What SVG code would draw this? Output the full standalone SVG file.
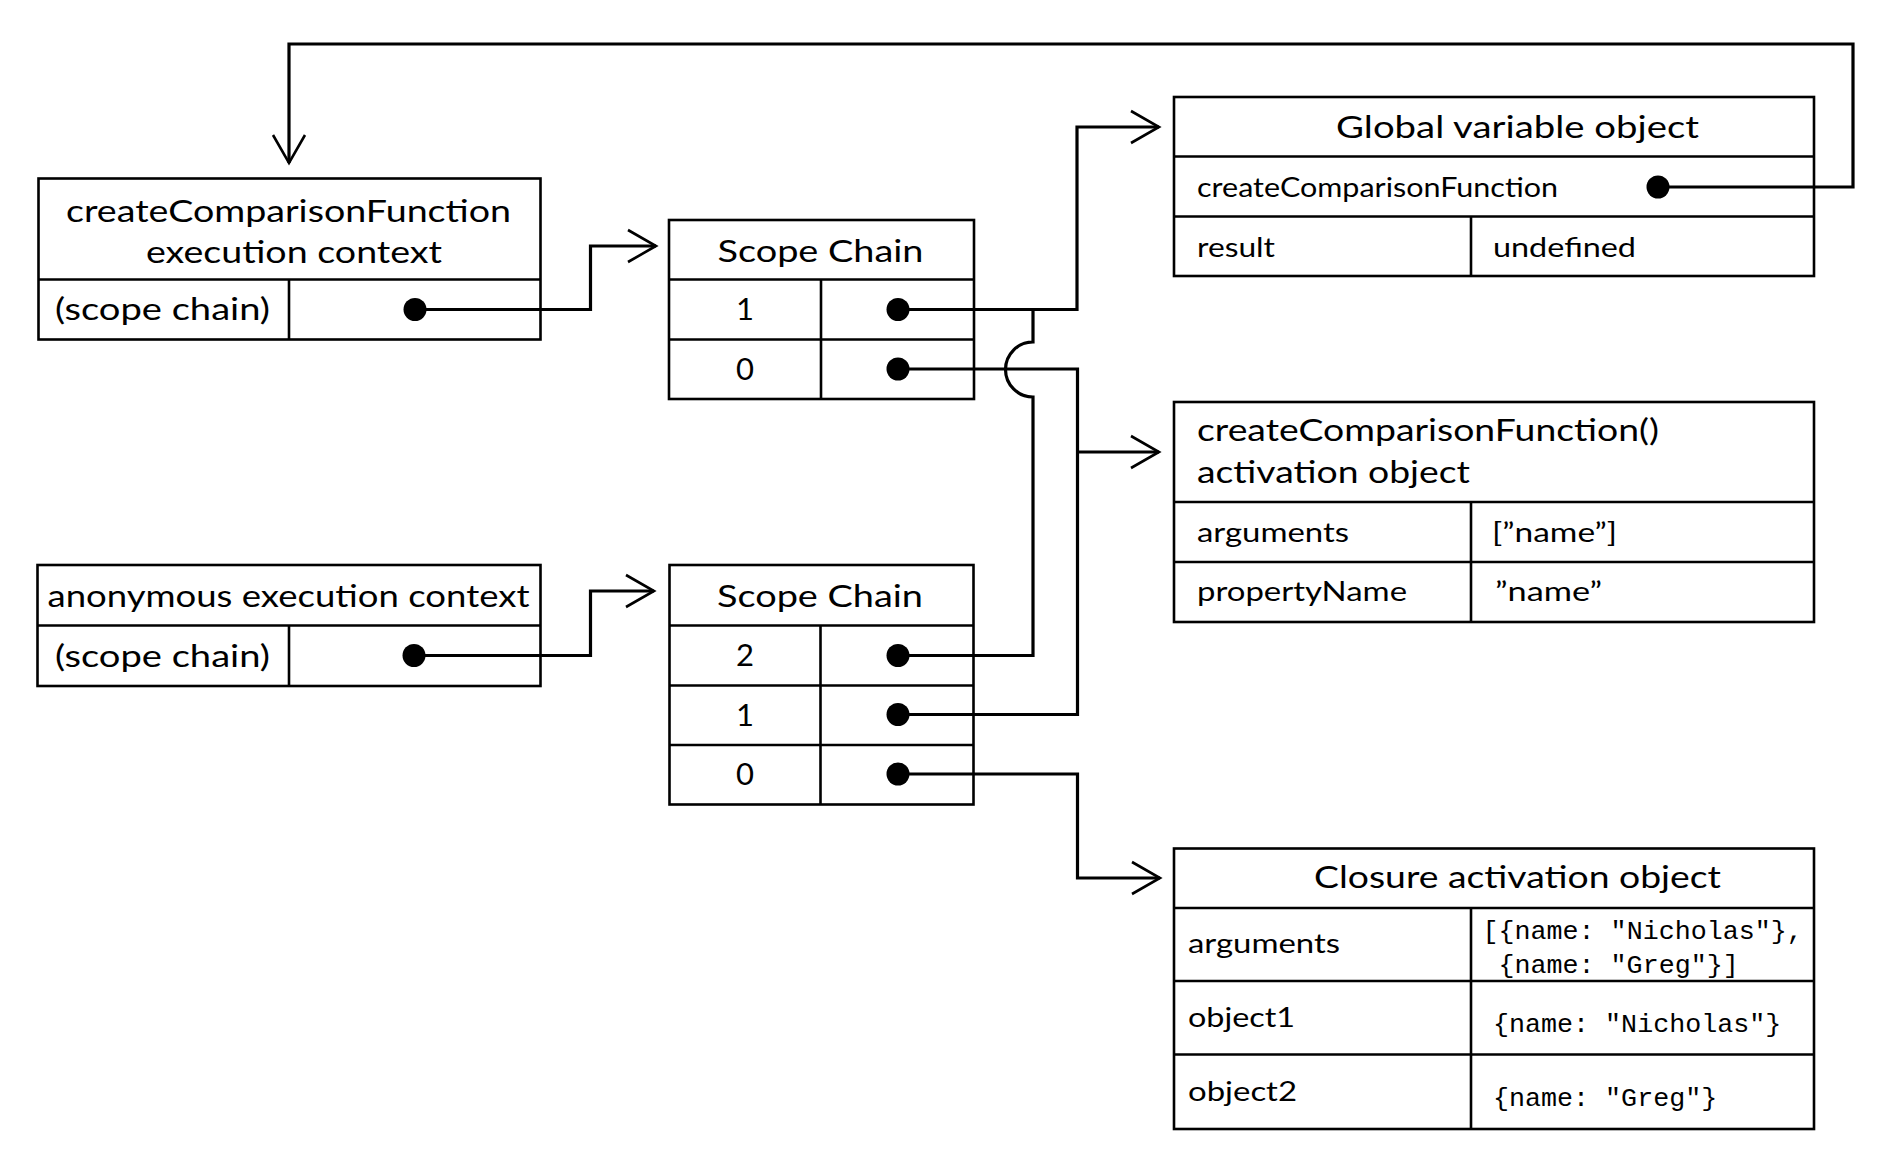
<svg xmlns="http://www.w3.org/2000/svg" width="1886" height="1158" viewBox="0 0 1886 1158">
<style>
.box{fill:none;stroke:#000;stroke-width:2.6}
.ln{fill:none;stroke:#000;stroke-width:3.2}
.dot{fill:#000}
.t{font-family:Lato,"Liberation Sans",sans-serif;fill:#000}
.h{font-size:31px}
.r{font-size:27px}
.m{font-family:"Liberation Mono","DejaVu Sans Mono",monospace;font-size:26.7px;fill:#000}
.c{text-anchor:middle}
</style>
<defs>
<marker id="arr" markerUnits="userSpaceOnUse" markerWidth="40" markerHeight="40" viewBox="-32 -20 36 40" refX="0" refY="0" orient="auto">
<path d="M-28,-16 L0,0 L-28,16" fill="none" stroke="#000" stroke-width="2.6"/>
</marker>
</defs>
<rect width="1886" height="1158" fill="#fff"/>

<g id="connectors">
<path class="ln" d="M415,309.5 H590.5 V246 H656" marker-end="url(#arr)"/>
<path class="ln" d="M414,655.5 H590.5 V591 H654" marker-end="url(#arr)"/>
<path class="ln" d="M898,309.5 H1077 V127 H1159" marker-end="url(#arr)"/>
<path class="ln" d="M898,655.5 H1033 V397 A27.5,27.5 0 0 1 1033,342 V309.5"/>
<path class="ln" d="M898,369 H1077.5 V714.5 H898"/>
<path class="ln" d="M1077.5,452 H1159" marker-end="url(#arr)"/>
<path class="ln" d="M898,774 H1077.5 V878 H1160" marker-end="url(#arr)"/>
<path class="ln" d="M1658,187 H1853 V44 H289 V163" marker-end="url(#arr)"/>
</g>

<g id="ctx-create">
<rect class="box" x="38.5" y="178.5" width="502" height="161"/>
<line class="box" x1="38.5" y1="279.5" x2="540.5" y2="279.5"/>
<line class="box" x1="289" y1="279.5" x2="289" y2="339.5"/>
<text class="t h" x="66" y="221.5" textLength="445" lengthAdjust="spacingAndGlyphs">createComparisonFunction</text>
<text class="t h" x="146" y="263" textLength="296" lengthAdjust="spacingAndGlyphs">execution context</text>
<text class="t h" x="55" y="320" textLength="215" lengthAdjust="spacingAndGlyphs">(scope chain)</text>
<circle class="dot" cx="415" cy="309.5" r="11.5"/>
</g>

<g id="scope-chain-1">
<rect class="box" x="669" y="220" width="305" height="179"/>
<line class="box" x1="669" y1="279.5" x2="974" y2="279.5"/>
<line class="box" x1="669" y1="339.5" x2="974" y2="339.5"/>
<line class="box" x1="821" y1="279.5" x2="821" y2="399"/>
<text class="t h" x="717.5" y="261.5" textLength="206" lengthAdjust="spacingAndGlyphs">Scope Chain</text>
<text class="t h c" x="745" y="320">1</text>
<text class="t h c" x="745" y="379.5">0</text>
<circle class="dot" cx="898" cy="309.5" r="11.5"/>
<circle class="dot" cx="898" cy="369" r="11.5"/>
</g>

<g id="ctx-anon">
<rect class="box" x="37.5" y="565" width="503" height="121"/>
<line class="box" x1="37.5" y1="625.5" x2="540.5" y2="625.5"/>
<line class="box" x1="289" y1="625.5" x2="289" y2="686"/>
<text class="t h" x="47.5" y="607" textLength="482" lengthAdjust="spacingAndGlyphs">anonymous execution context</text>
<text class="t h" x="55" y="666.5" textLength="215" lengthAdjust="spacingAndGlyphs">(scope chain)</text>
<circle class="dot" cx="414" cy="655.5" r="11.5"/>
</g>

<g id="scope-chain-2">
<rect class="box" x="669.5" y="565" width="304" height="239.5"/>
<line class="box" x1="669.5" y1="625.5" x2="973.5" y2="625.5"/>
<line class="box" x1="669.5" y1="685.5" x2="973.5" y2="685.5"/>
<line class="box" x1="669.5" y1="745" x2="973.5" y2="745"/>
<line class="box" x1="820.5" y1="625.5" x2="820.5" y2="804.5"/>
<text class="t h" x="717" y="607" textLength="206" lengthAdjust="spacingAndGlyphs">Scope Chain</text>
<text class="t h c" x="745" y="666">2</text>
<text class="t h c" x="745" y="725.5">1</text>
<text class="t h c" x="745" y="785">0</text>
<circle class="dot" cx="898" cy="655.5" r="11.5"/>
<circle class="dot" cx="898" cy="714.5" r="11.5"/>
<circle class="dot" cx="898" cy="774" r="11.5"/>
</g>

<g id="global-object">
<rect class="box" x="1174" y="97" width="640" height="179"/>
<line class="box" x1="1174" y1="156.5" x2="1814" y2="156.5"/>
<line class="box" x1="1174" y1="216.5" x2="1814" y2="216.5"/>
<line class="box" x1="1471" y1="216.5" x2="1471" y2="276"/>
<text class="t h" x="1336" y="138" textLength="363" lengthAdjust="spacingAndGlyphs">Global variable object</text>
<text class="t r" x="1197" y="197" textLength="361" lengthAdjust="spacingAndGlyphs">createComparisonFunction</text>
<text class="t r" x="1197" y="256.5" textLength="78" lengthAdjust="spacingAndGlyphs">result</text>
<text class="t r" x="1493" y="256.5" textLength="143" lengthAdjust="spacingAndGlyphs">undefined</text>
<circle class="dot" cx="1658" cy="187" r="11.5"/>
</g>

<g id="activation-object">
<rect class="box" x="1174" y="402" width="640" height="220"/>
<line class="box" x1="1174" y1="502" x2="1814" y2="502"/>
<line class="box" x1="1174" y1="562" x2="1814" y2="562"/>
<line class="box" x1="1471" y1="502" x2="1471" y2="622"/>
<text class="t h" x="1197" y="441" textLength="462" lengthAdjust="spacingAndGlyphs">createComparisonFunction()</text>
<text class="t h" x="1197" y="483" textLength="273" lengthAdjust="spacingAndGlyphs">activation object</text>
<text class="t r" x="1197" y="542" textLength="152" lengthAdjust="spacingAndGlyphs">arguments</text>
<text class="t r" x="1492" y="542" textLength="125" lengthAdjust="spacingAndGlyphs">[”name”]</text>
<text class="t r" x="1197" y="601" textLength="210" lengthAdjust="spacingAndGlyphs">propertyName</text>
<text class="t r" x="1495" y="601" textLength="107" lengthAdjust="spacingAndGlyphs">”name”</text>
</g>

<g id="closure-object">
<rect class="box" x="1174" y="848.5" width="640" height="280.5"/>
<line class="box" x1="1174" y1="908" x2="1814" y2="908"/>
<line class="box" x1="1174" y1="981" x2="1814" y2="981"/>
<line class="box" x1="1174" y1="1054.5" x2="1814" y2="1054.5"/>
<line class="box" x1="1471" y1="908" x2="1471" y2="1129"/>
<text class="t h" x="1314" y="888" textLength="407" lengthAdjust="spacingAndGlyphs">Closure activation object</text>
<text class="t r" x="1188" y="953" textLength="152" lengthAdjust="spacingAndGlyphs">arguments</text>
<text class="t r" x="1188" y="1027" textLength="107" lengthAdjust="spacingAndGlyphs">object1</text>
<text class="t r" x="1188" y="1101" textLength="109" lengthAdjust="spacingAndGlyphs">object2</text>
<text class="m" x="1482.5" y="939" xml:space="preserve">[{name: "Nicholas"},</text>
<text class="m" x="1498.5" y="972.5" xml:space="preserve">{name: "Greg"}]</text>
<text class="m" x="1493" y="1032" xml:space="preserve">{name: "Nicholas"}</text>
<text class="m" x="1493" y="1105.5" xml:space="preserve">{name: "Greg"}</text>
</g>
</svg>
